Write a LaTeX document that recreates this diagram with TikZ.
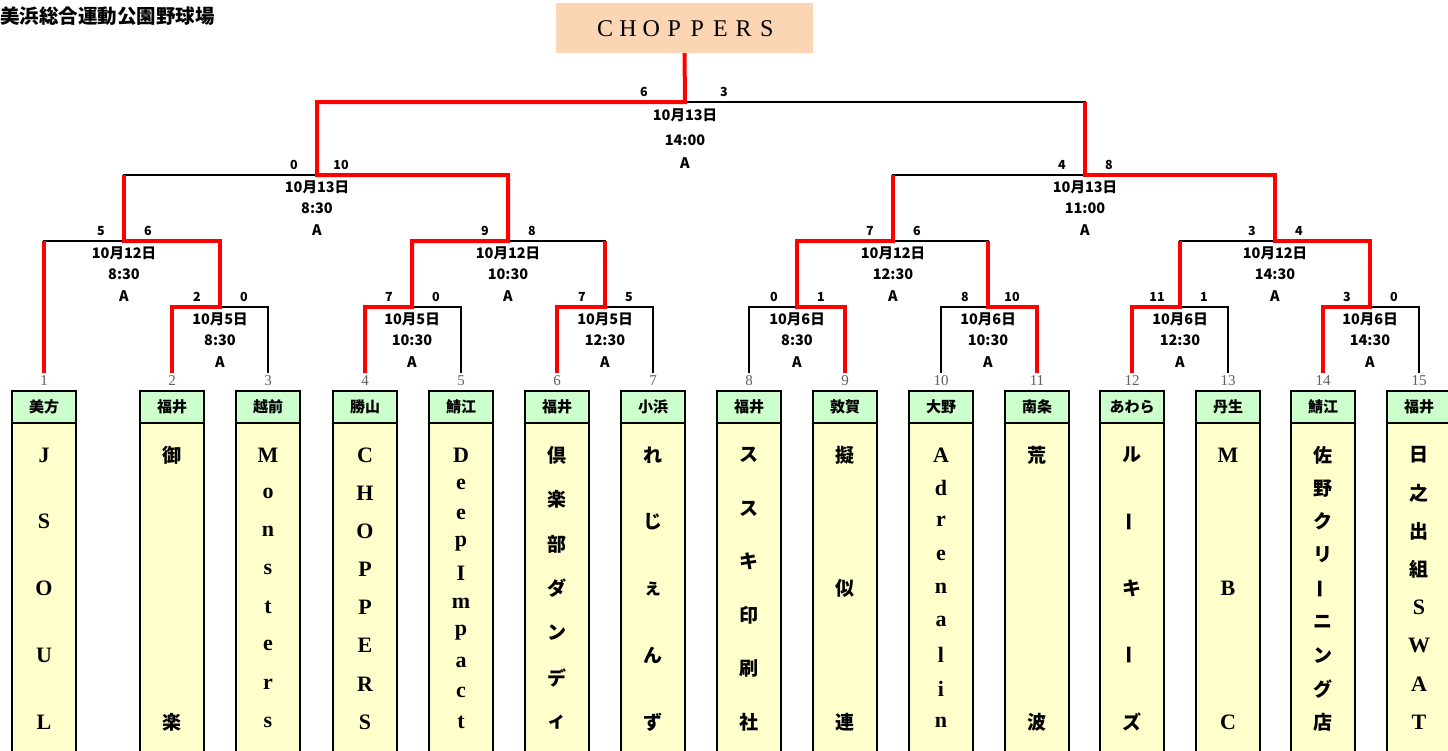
\documentclass[tikz,border=0pt]{standalone}
\usepackage{fontspec}
\usepackage{graphicx}
\newfontfamily\jp{Noto Sans CJK JP}
\newfontfamily\srf{Liberation Serif}
\definecolor{hgreen}{RGB}{204,255,204}
\definecolor{byellow}{RGB}{255,255,204}
\definecolor{peach}{RGB}{252,213,180}
\definecolor{seedgray}{RGB}{95,95,95}
\tikzset{
  blk/.style={draw=black,line width=2pt},
  win/.style={draw=red,line width=4pt},
  dl/.style={font={\jp\bfseries\fontsize{14.5}{14.5}\selectfont},inner sep=0pt},
  sc/.style={font={\jp\bfseries\fontsize{12.5}{12.5}\selectfont},inner sep=0pt},
  seed/.style={font={\srf\fontsize{15}{15}\selectfont},text=seedgray,inner sep=0pt},
  hdr/.style={draw=black,line width=2pt,fill=hgreen,minimum width=64pt,minimum height=32pt,inner sep=0pt,font={\jp\bfseries\fontsize{15}{15}\selectfont}},
  bodybox/.style={draw=black,line width=2pt,fill=byellow},
  lc/.style={font={\srf\bfseries\fontsize{22}{22}\selectfont},inner sep=0pt},
  jc/.style={font={\jp\bfseries\fontsize{19}{19}\selectfont},inner sep=0pt},
  chl/.style={font={\srf\fontsize{24}{24}\selectfont},inner sep=0pt}
}
\newcommand\vbar{\rotatebox{90}{ー}}
% #1 team no, #2 x, #3 number of chars, #4 style, #5 list
\newcommand\vcol[5]{%
  \foreach \ch [count=\k] in {#5} {\node[#4] (t#1c\k) at ({#2},{455+(\k-1)*267/(#3-1)}) {\ch};}}
% #1 x, #2 seed, #3 header
\newcommand\team[3]{%
  \draw[bodybox] ({#1-32},423) rectangle ({#1+32},765);
  \node[hdr] (h#2) at ({#1},407) {#3};
  \node[seed] (s#2) at ({#1},381) {#2};
  \coordinate (L#2) at ({#1},373);}
% #1 name, #2 x, #3 y, #4 date, #5 time, #6 left score, #7 right score
\newcommand\mlab[7]{%
  \node[dl] (#1d) at ({#2},{#3+12}) {#4};
  \node[dl] (#1t) at ({#2},{#3+33}) {#5};
  \node[dl] (#1a) at ({#2},{#3+55}) {A};
  \node[sc] (#1l) at ({#2-23},{#3-10}) {#6};
  \node[sc] (#1r) at ({#2+24},{#3-10}) {#7};}
\begin{document}
\begin{tikzpicture}[x=1pt,y=-1pt]
\useasboundingbox (0,0) rectangle (1448,750);
\clip (0,0) rectangle (1448,750);
\node[anchor=west,inner sep=0pt,font={\jp\bfseries\fontsize{19.5}{19.5}\selectfont}] (title) at (0,16) {美浜総合運動公園野球場};
\node[fill=peach,minimum width=257pt,minimum height=50pt,inner sep=0pt] (champ) at (684.5,28) {};
\foreach \l [count=\k] in {C,H,O,P,P,E,R,S} {\node[chl] (ch\k) at ({605+(\k-1)*23.1},28.5) {\l};}
% teams
\team{44}{1}{美方}
\team{172}{2}{福井}
\team{268}{3}{越前}
\team{365}{4}{勝山}
\team{461}{5}{鯖江}
\team{557}{6}{福井}
\team{653}{7}{小浜}
\team{749}{8}{福井}
\team{845}{9}{敦賀}
\team{941}{10}{大野}
\team{1037}{11}{南条}
\team{1132}{12}{あわら}
\team{1228}{13}{丹生}
\team{1323}{14}{鯖江}
\team{1419}{15}{福井}
\vcol{1}{44}{5}{lc}{J,S,O,U,L}
\vcol{2}{172}{2}{jc}{御,楽}
\vcol{3}{268}{8}{lc}{M,o,n,s,t,e,r,s}
\vcol{4}{365}{8}{lc}{C,H,O,P,P,E,R,S}
\vcol{5}{461}{10}{lc}{D,e,e,p,I,m,p,a,c,t}
\vcol{6}{557}{7}{jc}{倶,楽,部,ダ,ン,デ,ィ}
\vcol{7}{653}{5}{jc}{れ,じ,ぇ,ん,ず}
\vcol{8}{749}{6}{jc}{ス,ス,キ,印,刷,社}
\vcol{9}{845}{3}{jc}{擬,似,連}
\vcol{10}{941}{9}{lc}{A,d,r,e,n,a,l,i,n}
\vcol{11}{1037}{2}{jc}{荒,波}
\vcol{12}{1132}{5}{jc}{ル,\vbar,キ,\vbar,ズ}
\vcol{13}{1228}{3}{lc}{M,B,C}
\vcol{14}{1323}{9}{jc}{佐,野,ク,リ,\vbar,ニ,ン,グ,店}
\foreach \ch [count=\k] in {日,之,出,組} {\node[jc] (t15c\k) at (1419,{455+(\k-1)*267/7}) {\ch};}
\foreach \ch [count=\k from 5] in {S,W,A,T} {\node[lc] (t15c\k) at (1419,{455+(\k-1)*267/7}) {\ch};}
% match points
\coordinate (M1) at (220,307);
\coordinate (M2) at (412,307);
\coordinate (M3) at (605,307);
\coordinate (M4) at (797,307);
\coordinate (M5) at (988,307);
\coordinate (M6) at (1180,307);
\coordinate (M7) at (1370,307);
\coordinate (Q1) at (124,241);
\coordinate (Q2) at (508,241);
\coordinate (Q3) at (893,241);
\coordinate (Q4) at (1275,241);
\coordinate (S1) at (317,175);
\coordinate (S2) at (1085,175);
\coordinate (F) at (685,102);
% black bracket
\draw[blk] (L2) |- (M1) -| (L3);
\draw[blk] (L4) |- (M2) -| (L5);
\draw[blk] (L6) |- (M3) -| (L7);
\draw[blk] (L8) |- (M4) -| (L9);
\draw[blk] (L10) |- (M5) -| (L11);
\draw[blk] (L12) |- (M6) -| (L13);
\draw[blk] (L14) |- (M7) -| (L15);
\draw[blk] (L1) |- (Q1) -| (M1);
\draw[blk] (M2) |- (Q2) -| (M3);
\draw[blk] (M4) |- (Q3) -| (M5);
\draw[blk] (M6) |- (Q4) -| (M7);
\draw[blk] (Q1) |- (S1) -| (Q2);
\draw[blk] (Q3) |- (S2) -| (Q4);
\draw[blk] (S1) |- (F) -| (S2);
% winners
\draw[win] (L1) -- (L1 |- Q1);
\draw[win] (L2) |- (M1) |- (Q1) -- (Q1 |- S1);
\draw[win] (L4) |- (M2) |- (Q2) |- (S1) |- (F) -- (champ.south);
\draw[win] (L6) |- (M3) -- (M3 |- Q2);
\draw[win] (L9) |- (M4) |- (Q3) -- (Q3 |- S2);
\draw[win] (L11) |- (M5) -- (M5 |- Q3);
\draw[win] (L12) |- (M6) -- (M6 |- Q4);
\draw[win] (L14) |- (M7) |- (Q4) |- (S2) -- (S2 |- F);
% labels
\mlab{m1}{220}{307}{10月5日}{8:30}{2}{0}
\mlab{m2}{412}{307}{10月5日}{10:30}{7}{0}
\mlab{m3}{605}{307}{10月5日}{12:30}{7}{5}
\mlab{m4}{797}{307}{10月6日}{8:30}{0}{1}
\mlab{m5}{988}{307}{10月6日}{10:30}{8}{10}
\mlab{m6}{1180}{307}{10月6日}{12:30}{11}{1}
\mlab{m7}{1370}{307}{10月6日}{14:30}{3}{0}
\mlab{q1}{124}{241}{10月12日}{8:30}{5}{6}
\mlab{q2}{508}{241}{10月12日}{10:30}{9}{8}
\mlab{q3}{893}{241}{10月12日}{12:30}{7}{6}
\mlab{q4}{1275}{241}{10月12日}{14:30}{3}{4}
\mlab{s1}{317}{175}{10月13日}{8:30}{0}{10}
\mlab{s2}{1085}{175}{10月13日}{11:00}{4}{8}
\node[dl] (fd) at (685,115) {10月13日};
\node[dl] (ft) at (685,140) {14:00};
\node[dl] (fa) at (685,163) {A};
\node[sc] (fl) at (644,92) {6};
\node[sc] (fr) at (724,92) {3};
\end{tikzpicture}
\end{document}
